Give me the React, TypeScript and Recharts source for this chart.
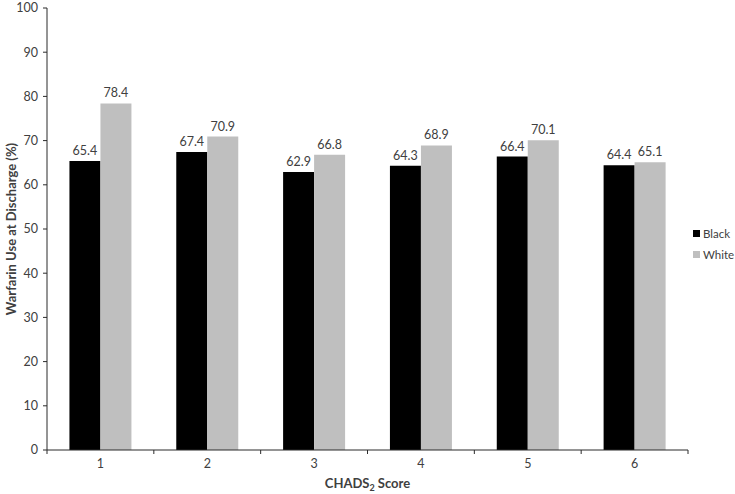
import { Bar, BarChart, LabelList, Legend, XAxis, YAxis } from 'recharts'

const scores = ['1', '2', '3', '4', '5', '6']
const blackPct = [65.4, 67.4, 62.9, 64.3, 66.4, 64.4]
const whitePct = [78.4, 70.9, 66.8, 68.9, 70.1, 65.1]
const yTicks = [0, 10, 20, 30, 40, 50, 60, 70, 80, 90, 100]

const data = scores.map((score, i) => ({ score, Black: blackPct[i], White: whitePct[i] }))

const FONT = 'Lato, "Open Sans", sans-serif'
const TEXT = '#404040'
const AXIS = '#2b2b2b'

/** Category label at the band centre, tick marks at the band edges (Excel style). */
function ScoreTick(props: any) {
  const { x, y, payload, index, visibleTicksCount, width } = props
  const band = (width ?? 642) / visibleTicksCount
  const left = x - band / 2
  const right = x + band / 2
  return (
    <g>
      <line x1={left} x2={left} y1={y - 4} y2={y} stroke={AXIS} />
      {index === visibleTicksCount - 1 && (
        <line x1={right} x2={right} y1={y - 4} y2={y} stroke={AXIS} />
      )}
      <text x={x} y={y + 5} dy="0.71em" textAnchor="middle" fill={TEXT} fontSize={12.5} fontFamily={FONT}>
        {payload.value}
      </text>
    </g>
  )
}

function XTitle({ viewBox }: any) {
  const cx = viewBox.x + viewBox.width / 2
  return (
    <text x={cx} y={viewBox.y + viewBox.height - 6} textAnchor="middle" fill={TEXT} fontSize={13} fontWeight={700} fontFamily={FONT}>
      CHADS
      <tspan fontSize={9} dy={3}>2</tspan>
      <tspan dy={-3}> Score</tspan>
    </text>
  )
}

function YTitle({ viewBox }: any) {
  const cx = viewBox.x + 11
  const cy = viewBox.y + viewBox.height / 2
  return (
    <text
      x={cx}
      y={cy}
      transform={`rotate(-90 ${cx} ${cy})`}
      textAnchor="middle"
      dominantBaseline="central"
      fill={TEXT}
      fontSize={13}
      fontWeight={700}
      fontFamily={FONT}
    >
      Warfarin Use at Discharge (%)
    </text>
  )
}

function SeriesLegend({ payload }: any) {
  return (
    <div style={{ fontFamily: FONT, fontSize: 11.5, color: TEXT, paddingLeft: 5 }}>
      {(payload ?? []).map((p: any) => (
        <div key={p.value} style={{ display: 'flex', alignItems: 'center', height: 21, whiteSpace: 'nowrap' }}>
          <span style={{ width: 7, height: 7, flex: '0 0 7px', background: p.color, marginRight: 3 }} />
          {p.value}
        </div>
      ))}
    </div>
  )
}

export default function App() {
  return (
    <div style={{ position: 'absolute', left: 0, top: 0, background: '#fff' }}>
      <BarChart
        width={735}
        height={494}
        data={data}
        margin={{ top: 8, right: 0, bottom: 0, left: 0 }}
        barCategoryGap="21%"
        barGap={0}
      >
        <XAxis
          dataKey="score"
          height={44}
          tickSize={4}
          tickMargin={0}
          tickLine={false}
          axisLine={{ stroke: AXIS }}
          tick={<ScoreTick />}
          interval={0}
          label={<XTitle />}
        />
        <YAxis
          width={47}
          domain={[0, 100]}
          ticks={yTicks}
          interval={0}
          tickSize={4}
          tickMargin={5}
          tickLine={{ stroke: AXIS }}
          axisLine={{ stroke: AXIS }}
          tick={{ fill: TEXT, fontSize: 12.5, fontFamily: FONT }}
          label={<YTitle />}
        />
        <Legend
          layout="vertical"
          align="right"
          verticalAlign="middle"
          width={47}
          wrapperStyle={{ marginTop: -3 }}
          content={<SeriesLegend />}
        />
        <Bar dataKey="Black" fill="#000000" isAnimationActive={false}>
          <LabelList dataKey="Black" position="top" offset={6} fill={TEXT} fontSize={12.5} fontFamily={FONT} />
        </Bar>
        <Bar dataKey="White" fill="#bfbfbf" isAnimationActive={false}>
          <LabelList dataKey="White" position="top" offset={6} fill={TEXT} fontSize={12.5} fontFamily={FONT} />
        </Bar>
      </BarChart>
    </div>
  )
}
